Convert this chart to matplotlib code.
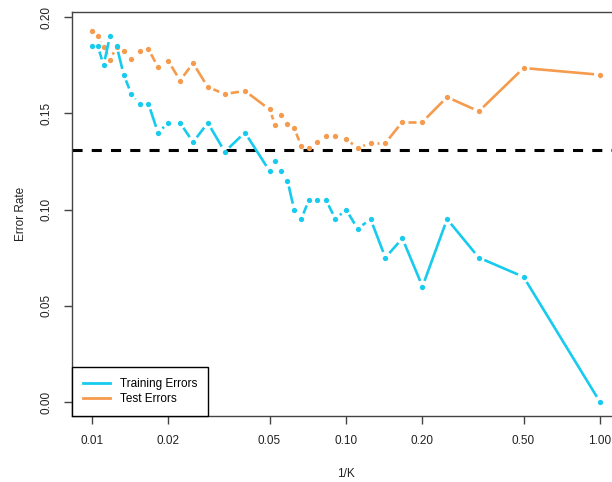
import numpy as np
import matplotlib
matplotlib.use("Agg")
import matplotlib.pyplot as plt
from matplotlib.lines import Line2D

plt.rcParams['font.family'] = ['Liberation Sans', 'DejaVu Sans']

# K values: 100, 95, ..., 25, then 20 down to 1
k_values = [100, 95, 90, 85, 80, 75, 70, 65, 60, 55, 50, 45, 40, 35, 30, 25,
            20, 19, 18, 17, 16, 15, 14, 13, 12, 11, 10, 9, 8, 7, 6, 5, 4, 3, 2, 1]

train_err = [0.185, 0.185, 0.175, 0.190, 0.185, 0.170, 0.160, 0.155, 0.155, 0.140,
             0.145, 0.145, 0.135, 0.145, 0.130, 0.140,
             0.120, 0.125, 0.120, 0.115, 0.100, 0.095, 0.105, 0.105, 0.105, 0.095,
             0.100, 0.090, 0.095, 0.075, 0.085, 0.060, 0.095, 0.075, 0.065, 0.000]

test_err = [0.1927, 0.1900, 0.1844, 0.1777, 0.1844, 0.1823, 0.1780, 0.1823, 0.1834, 0.1740,
            0.1770, 0.1670, 0.1760, 0.1636, 0.1600, 0.1616,
            0.1520, 0.1439, 0.1490, 0.1444, 0.1423, 0.1330, 0.1320, 0.1350, 0.1380, 0.1380,
            0.1366, 0.1320, 0.1345, 0.1345, 0.1455, 0.1455, 0.1584, 0.1510, 0.1735, 0.1700]

bayes_err = 0.1308

x_ticks = [0.01, 0.02, 0.05, 0.10, 0.20, 0.50, 1.00]
y_ticks = [0.00, 0.05, 0.10, 0.15, 0.20]

train_col = '#17CBEE'
test_col = '#F59B4E'
axis_col = '#444444'

inv_k = 1.0 / np.array(k_values, dtype=float)

fig = plt.figure(figsize=(6.12, 4.82), dpi=100)
ax = fig.add_axes([72 / 612, 66 / 482, 548 / 612, 404 / 482])
ax.set_xscale('log')
ax.set_xlim(0.008342, 1.1987)
ax.set_ylim(-0.00727, 0.2026)


def gapped_line(ax, x, y, color, gap=6.0):
    # R type="b": segments stop short of each point
    pts = ax.transData.transform(np.column_stack([x, y]))
    inv = ax.transData.inverted()
    for p0, p1 in zip(pts[:-1], pts[1:]):
        d = np.hypot(*(p1 - p0))
        if d <= 2 * gap:
            continue
        u = (p1 - p0) / d
        seg = inv.transform(np.array([p0 + gap * u, p1 - gap * u]))
        ax.plot(seg[:, 0], seg[:, 1], color=color, lw=1.9, solid_capstyle='butt')
    ax.plot(x, y, 'o', color=color, ms=3.8, mew=0)


ax.axhline(bayes_err, color='black', lw=2.2, dashes=(3.3, 3.0), zorder=1)
gapped_line(ax, inv_k, test_err, test_col)
gapped_line(ax, inv_k, train_err, train_col)

ax.set_xticks(x_ticks)
ax.set_xticklabels(['%.2f' % v for v in x_ticks])
ax.minorticks_off()
ax.set_yticks(y_ticks)
ax.set_yticklabels(['%.2f' % v for v in y_ticks], rotation=90, va='center')
ax.tick_params(axis='both', direction='out', length=6, width=1, colors=axis_col,
               labelcolor='#222222', labelsize=8.5)
ax.tick_params(axis='x', pad=8)
ax.tick_params(axis='y', pad=8)

for s in ax.spines.values():
    s.set_color(axis_col)
    s.set_linewidth(1)

ax.set_xlabel('1/K', fontsize=8.5, color='#222222', labelpad=15)
ax.set_ylabel('Error Rate', fontsize=8.5, color='#222222', labelpad=10)

handles = [Line2D([], [], color=train_col, lw=2),
           Line2D([], [], color=test_col, lw=2)]
leg = ax.legend(handles, ['Training Errors', 'Test Errors'], loc='lower left',
                borderaxespad=0, fancybox=False, edgecolor='black', framealpha=1,
                fontsize=8.5, handlelength=2.3, handletextpad=0.9,
                labelspacing=0.3, borderpad=0.9)
leg.get_frame().set_linewidth(1)

fig.savefig('out.png', dpi=100)
